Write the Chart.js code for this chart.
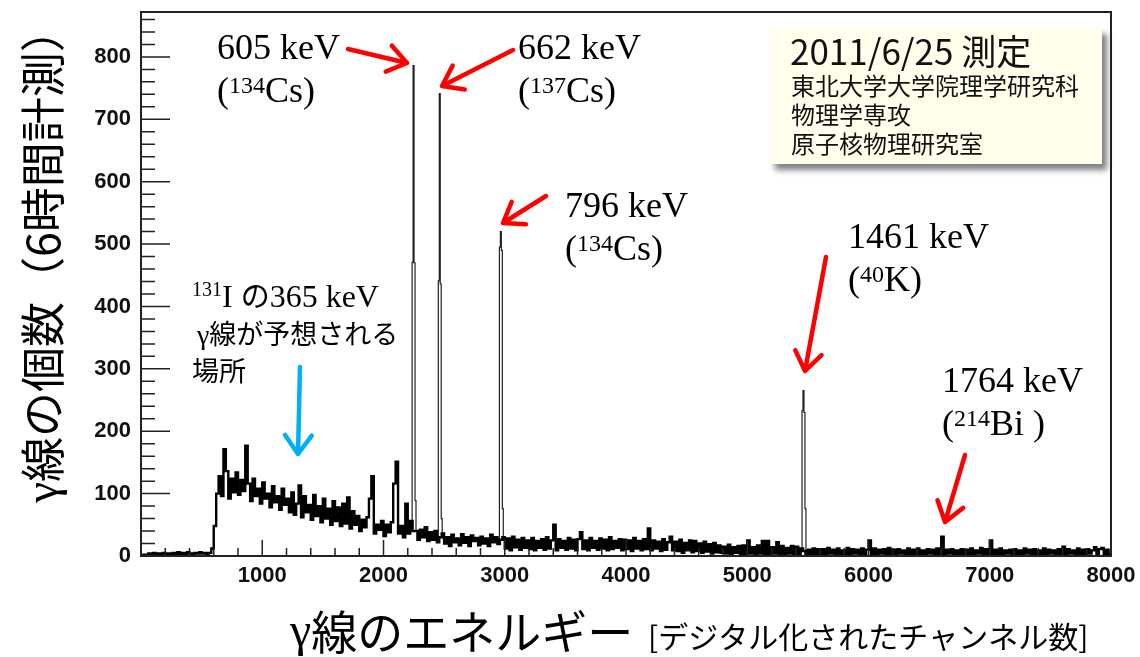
<!DOCTYPE html>
<html>
<head>
<meta charset="utf-8">
<title>γ線スペクトル</title>
<script src="https://cdn.jsdelivr.net/npm/chart.js@4.4.1/dist/chart.umd.min.js"></script>
<style>
  body { margin: 0; background: #fff; }
  canvas { display: block; }
</style>
</head>
<body>
<canvas id="spec" width="1140" height="657"></canvas>
<script>
// counts per 20-channel bin, channel 0 .. 7980 (one row = 400 channels)
var binWidth = 20;
var counts = [
  0, 2, 1, 4, 2, 5, 2, 4, 3, 5, 2, 4, 3, 5, 2, 6, 3, 5, 2, 6,
  4, 3, 5, 4, 6, 4, 5, 3, 5, 12, 48, 100, 128, 96, 171, 136, 92, 124, 102, 134,
  98, 122, 104, 177, 116, 88, 124, 96, 108, 84, 118, 92, 100, 78, 112, 86, 96, 74, 108, 82,
  92, 70, 102, 66, 84, 113, 62, 96, 70, 82, 58, 98, 64, 80, 54, 92, 60, 76, 50, 88,
  56, 78, 48, 84, 52, 94, 44, 72, 50, 64, 40, 58, 46, 62, 92, 128, 36, 50, 42, 56,
  32, 50, 38, 54, 116, 151, 36, 48, 30, 84, 36, 56, 40, 40, 26, 42, 30, 46, 24, 38,
  26, 40, 22, 30, 36, 20, 30, 16, 34, 22, 28, 17, 35, 21, 30, 16, 33, 24, 29, 17,
  31, 20, 28, 16, 34, 22, 30, 19, 26, 30, 12, 28, 9, 31, 14, 26, 10, 29, 13, 25,
  11, 29, 9, 24, 13, 27, 10, 30, 12, 25, 50, 9, 27, 13, 24, 10, 29, 12, 26, 9,
  27, 38, 11, 25, 9, 29, 13, 24, 10, 28, 12, 26, 9, 30, 11, 24, 13, 27, 9, 26,
  11, 25, 8, 29, 12, 24, 9, 27, 11, 44, 9, 25, 12, 23, 8, 27, 10, 22, 31, 9,
  23, 8, 26, 5, 21, 9, 25, 6, 24, 8, 20, 5, 23, 7, 19, 4, 21, 6, 17, 5,
  15, 4, 18, 2, 14, 5, 16, 3, 17, 2, 25, 4, 14, 2, 17, 4, 24, 2, 24, 3,
  14, 4, 22, 2, 16, 3, 13, 4, 16, 2, 15, 3, 12, 8, 2, 10, 3, 12, 2, 11,
  3, 11, 2, 13, 4, 10, 2, 12, 3, 9, 2, 13, 3, 11, 4, 10, 2, 12, 3, 10,
  25, 3, 12, 2, 10, 4, 11, 2, 13, 3, 10, 2, 11, 4, 9, 2, 12, 3, 10, 2,
  12, 3, 9, 2, 11, 4, 10, 2, 12, 3, 31, 2, 10, 4, 11, 2, 9, 3, 11, 2,
  10, 3, 12, 2, 9, 4, 13, 2, 11, 3, 25, 2, 10, 3, 12, 2, 9, 4, 10, 2,
  11, 3, 9, 2, 12, 4, 10, 2, 11, 3, 9, 2, 12, 3, 10, 4, 9, 2, 11, 3,
  15, 2, 11, 4, 9, 2, 12, 3, 10, 2, 11, 4, 9, 14, 2, 11, 13, 3, 10, 2
];

// the strong lines, in 8-channel bins starting at peakStart
var peakBinWidth = 8;
var peakStart = [2228, 2444, 2948, 5444];
var peakCounts = [
  [42, 471, 786, 470, 89, 40],
  [30, 441, 741, 436, 60, 28],
  [25, 495, 520, 490, 76, 24],
  [8, 233, 265, 230, 76, 6]
];

var xTickValues = [1000, 2000, 3000, 4000, 5000, 6000, 7000, 8000];
var yTickValues = [0, 100, 200, 300, 400, 500, 600, 700, 800];
var xMin = 0, xMax = 8000, xMinorStep = 200;
var yMin = 0, yMax = 872, yMinorStep = 20;

var serif = '"Liberation Serif", "Times New Roman", serif';
var jp = '"Noto Sans CJK JP", "Noto Sans", sans-serif';

var spectrum = counts.map(function (c, i) { return { x: i * binWidth, y: c }; });
spectrum.push({ x: counts.length * binWidth, y: counts[counts.length - 1] });

var peakPoints = [];
peakStart.forEach(function (start, p) {
  peakCounts[p].forEach(function (c, k) {
    peakPoints.push({ x: start + k * peakBinWidth, y: c });
  });
  peakPoints.push({ x: start + peakCounts[p].length * peakBinWidth, y: null });
});

// text runs drawn one after another on the same baseline
function drawRuns(ctx, x, y, runs) {
  runs.forEach(function (r) {
    ctx.font = r.font;
    ctx.fillText(r.text, x, y + (r.dy || 0));
    x += ctx.measureText(r.text).width;
  });
}

function runsWidth(ctx, runs) {
  var w = 0;
  runs.forEach(function (r) { ctx.font = r.font; w += ctx.measureText(r.text).width; });
  return w;
}

function arrow(ctx, x1, y1, x2, y2, color) {
  var ang = Math.atan2(y2 - y1, x2 - x1);
  var head = 23, spread = 0.62;
  ctx.strokeStyle = color;
  ctx.lineWidth = 4.5;
  ctx.lineCap = 'round';
  ctx.lineJoin = 'round';
  ctx.beginPath();
  ctx.moveTo(x1, y1);
  ctx.lineTo(x2, y2);
  ctx.moveTo(x2 - head * Math.cos(ang - spread), y2 - head * Math.sin(ang - spread));
  ctx.lineTo(x2, y2);
  ctx.lineTo(x2 - head * Math.cos(ang + spread), y2 - head * Math.sin(ang + spread));
  ctx.stroke();
}

// energy label + nuclide line
function lineLabel(ctx, x, y, energy, mass, element) {
  drawRuns(ctx, x, y, [{ text: energy, font: '36px ' + serif }]);
  drawRuns(ctx, x, y + 43, [
    { text: '(', font: '36px ' + serif },
    { text: mass, font: '24px ' + serif, dy: -9 },
    { text: element + ')', font: '36px ' + serif }
  ]);
}

var frameAndNotes = {
  id: 'frameAndNotes',
  afterDraw: function (chart) {
    var ctx = chart.ctx, a = chart.chartArea;
    var xs = chart.scales.x, ys = chart.scales.y;
    ctx.save();

    // ticks inside the frame
    ctx.strokeStyle = '#222';
    ctx.lineWidth = 1.5;
    ctx.beginPath();
    for (var v = yMin; v <= yMax; v += yMinorStep) {
      var py = ys.getPixelForValue(v);
      var len = yTickValues.indexOf(v) >= 0 ? 29 : 14;
      ctx.moveTo(a.left, py);
      ctx.lineTo(a.left + len, py);
    }
    for (var u = xMin + xMinorStep; u < xMax; u += xMinorStep) {
      var px = xs.getPixelForValue(u);
      var l2 = xTickValues.indexOf(u) >= 0 ? 16 : 8;
      ctx.moveTo(px, a.bottom);
      ctx.lineTo(px, a.bottom - l2);
    }
    ctx.stroke();

    ctx.lineWidth = 2;
    ctx.strokeRect(a.left, a.top, a.right - a.left, a.bottom - a.top);

    ctx.fillStyle = '#000';
    ctx.textBaseline = 'alphabetic';
    ctx.textAlign = 'left';

    // peak labels
    lineLabel(ctx, 217, 59, '605 keV', '134', 'Cs');
    lineLabel(ctx, 518, 59, '662 keV', '137', 'Cs');
    lineLabel(ctx, 565, 217, '796 keV', '134', 'Cs');
    lineLabel(ctx, 848, 248, '1461 keV', '40', 'K');
    lineLabel(ctx, 942, 392, '1764 keV', '214', 'Bi ');

    // I-131 note
    drawRuns(ctx, 192, 307, [
      { text: '131', font: '20px ' + serif, dy: -11 },
      { text: 'I ', font: '32px ' + serif },
      { text: 'の', font: '29px ' + jp },
      { text: '365 keV', font: '32px ' + serif }
    ]);
    drawRuns(ctx, 197, 344, [
      { text: 'γ', font: '28px ' + serif },
      { text: '線が予想される', font: '27px ' + jp }
    ]);
    drawRuns(ctx, 192, 381, [{ text: '場所', font: '27px ' + jp }]);

    arrow(ctx, 348, 49, 407, 63, '#ff0000');
    arrow(ctx, 513, 50, 442, 86, '#ff0000');
    arrow(ctx, 546, 196, 503, 223, '#ff0000');
    arrow(ctx, 826, 257, 805, 371, '#ff0000');
    arrow(ctx, 965, 455, 945, 522, '#ff0000');
    arrow(ctx, 300, 367, 298, 454, '#00b0f0');

    // measurement box
    ctx.save();
    ctx.shadowColor = 'rgba(0,0,0,0.5)';
    ctx.shadowBlur = 6;
    ctx.shadowOffsetX = 5;
    ctx.shadowOffsetY = 6;
    ctx.fillStyle = '#ffffec';
    ctx.fillRect(770, 28, 332, 136);
    ctx.restore();
    ctx.fillStyle = '#111';
    ctx.textBaseline = 'middle';
    ctx.font = '35px ' + jp;
    ctx.fillText('2011/6/25 測定', 790, 52);
    ctx.font = '24px ' + jp;
    ctx.fillText('東北大学大学院理学研究科', 791, 86);
    ctx.fillText('物理学専攻', 791, 115);
    ctx.fillText('原子核物理研究室', 791, 144);

    // axis titles
    ctx.fillStyle = '#000';
    ctx.textBaseline = 'alphabetic';
    var yTitle = [
      { text: 'γ', font: '47px ' + serif, dy: -3 },
      { text: '線の個数（6時間計測）', font: '45px ' + jp }
    ];
    ctx.save();
    ctx.translate(60, 255);
    ctx.rotate(-Math.PI / 2);
    drawRuns(ctx, -runsWidth(ctx, yTitle) / 2, 0, yTitle);
    ctx.restore();

    drawRuns(ctx, 290, 649, [
      { text: 'γ', font: '48px ' + serif, dy: -3 },
      { text: '線のエネルギー', font: '46px ' + jp }
    ]);
    drawRuns(ctx, 648, 648, [{ text: '[デジタル化されたチャンネル数]', font: '30px ' + jp }]);

    ctx.restore();
  }
};

var tickFont = { family: '"Liberation Sans", Arial, sans-serif', size: 22, weight: 'bold' };

new Chart(document.getElementById('spec'), {
  type: 'line',
  data: {
    datasets: [
      { data: spectrum, borderColor: '#000', borderWidth: 2.4, stepped: true, pointRadius: 0, fill: false },
      { data: peakPoints, borderColor: '#222', borderWidth: 1.2, stepped: true, pointRadius: 0, fill: false, spanGaps: false }
    ]
  },
  options: {
    responsive: false,
    animation: false,
    layout: { padding: { top: 12, right: 29, left: 0, bottom: 0 } },
    plugins: { legend: { display: false }, tooltip: { enabled: false } },
    scales: {
      x: {
        type: 'linear', min: xMin, max: xMax,
        grid: { display: false, drawTicks: false },
        border: { display: false },
        afterFit: function (s) { s.height = 101; s.paddingLeft = 0; s.paddingRight = 0; },
        afterBuildTicks: function (s) { s.ticks = xTickValues.map(function (v) { return { value: v }; }); },
        ticks: { font: tickFont, color: '#111', padding: 7, maxRotation: 0, autoSkip: false,
                 callback: function (v) { return String(v); } }
      },
      y: {
        type: 'linear', min: yMin, max: yMax,
        grid: { display: false, drawTicks: false },
        border: { display: false },
        afterFit: function (s) { s.width = 141; s.paddingTop = 0; s.paddingBottom = 0; },
        afterBuildTicks: function (s) { s.ticks = yTickValues.map(function (v) { return { value: v }; }); },
        ticks: { font: tickFont, color: '#111', padding: 10, autoSkip: false,
                 callback: function (v) { return String(v); } }
      }
    }
  },
  plugins: [frameAndNotes]
});
</script>
</body>
</html>
